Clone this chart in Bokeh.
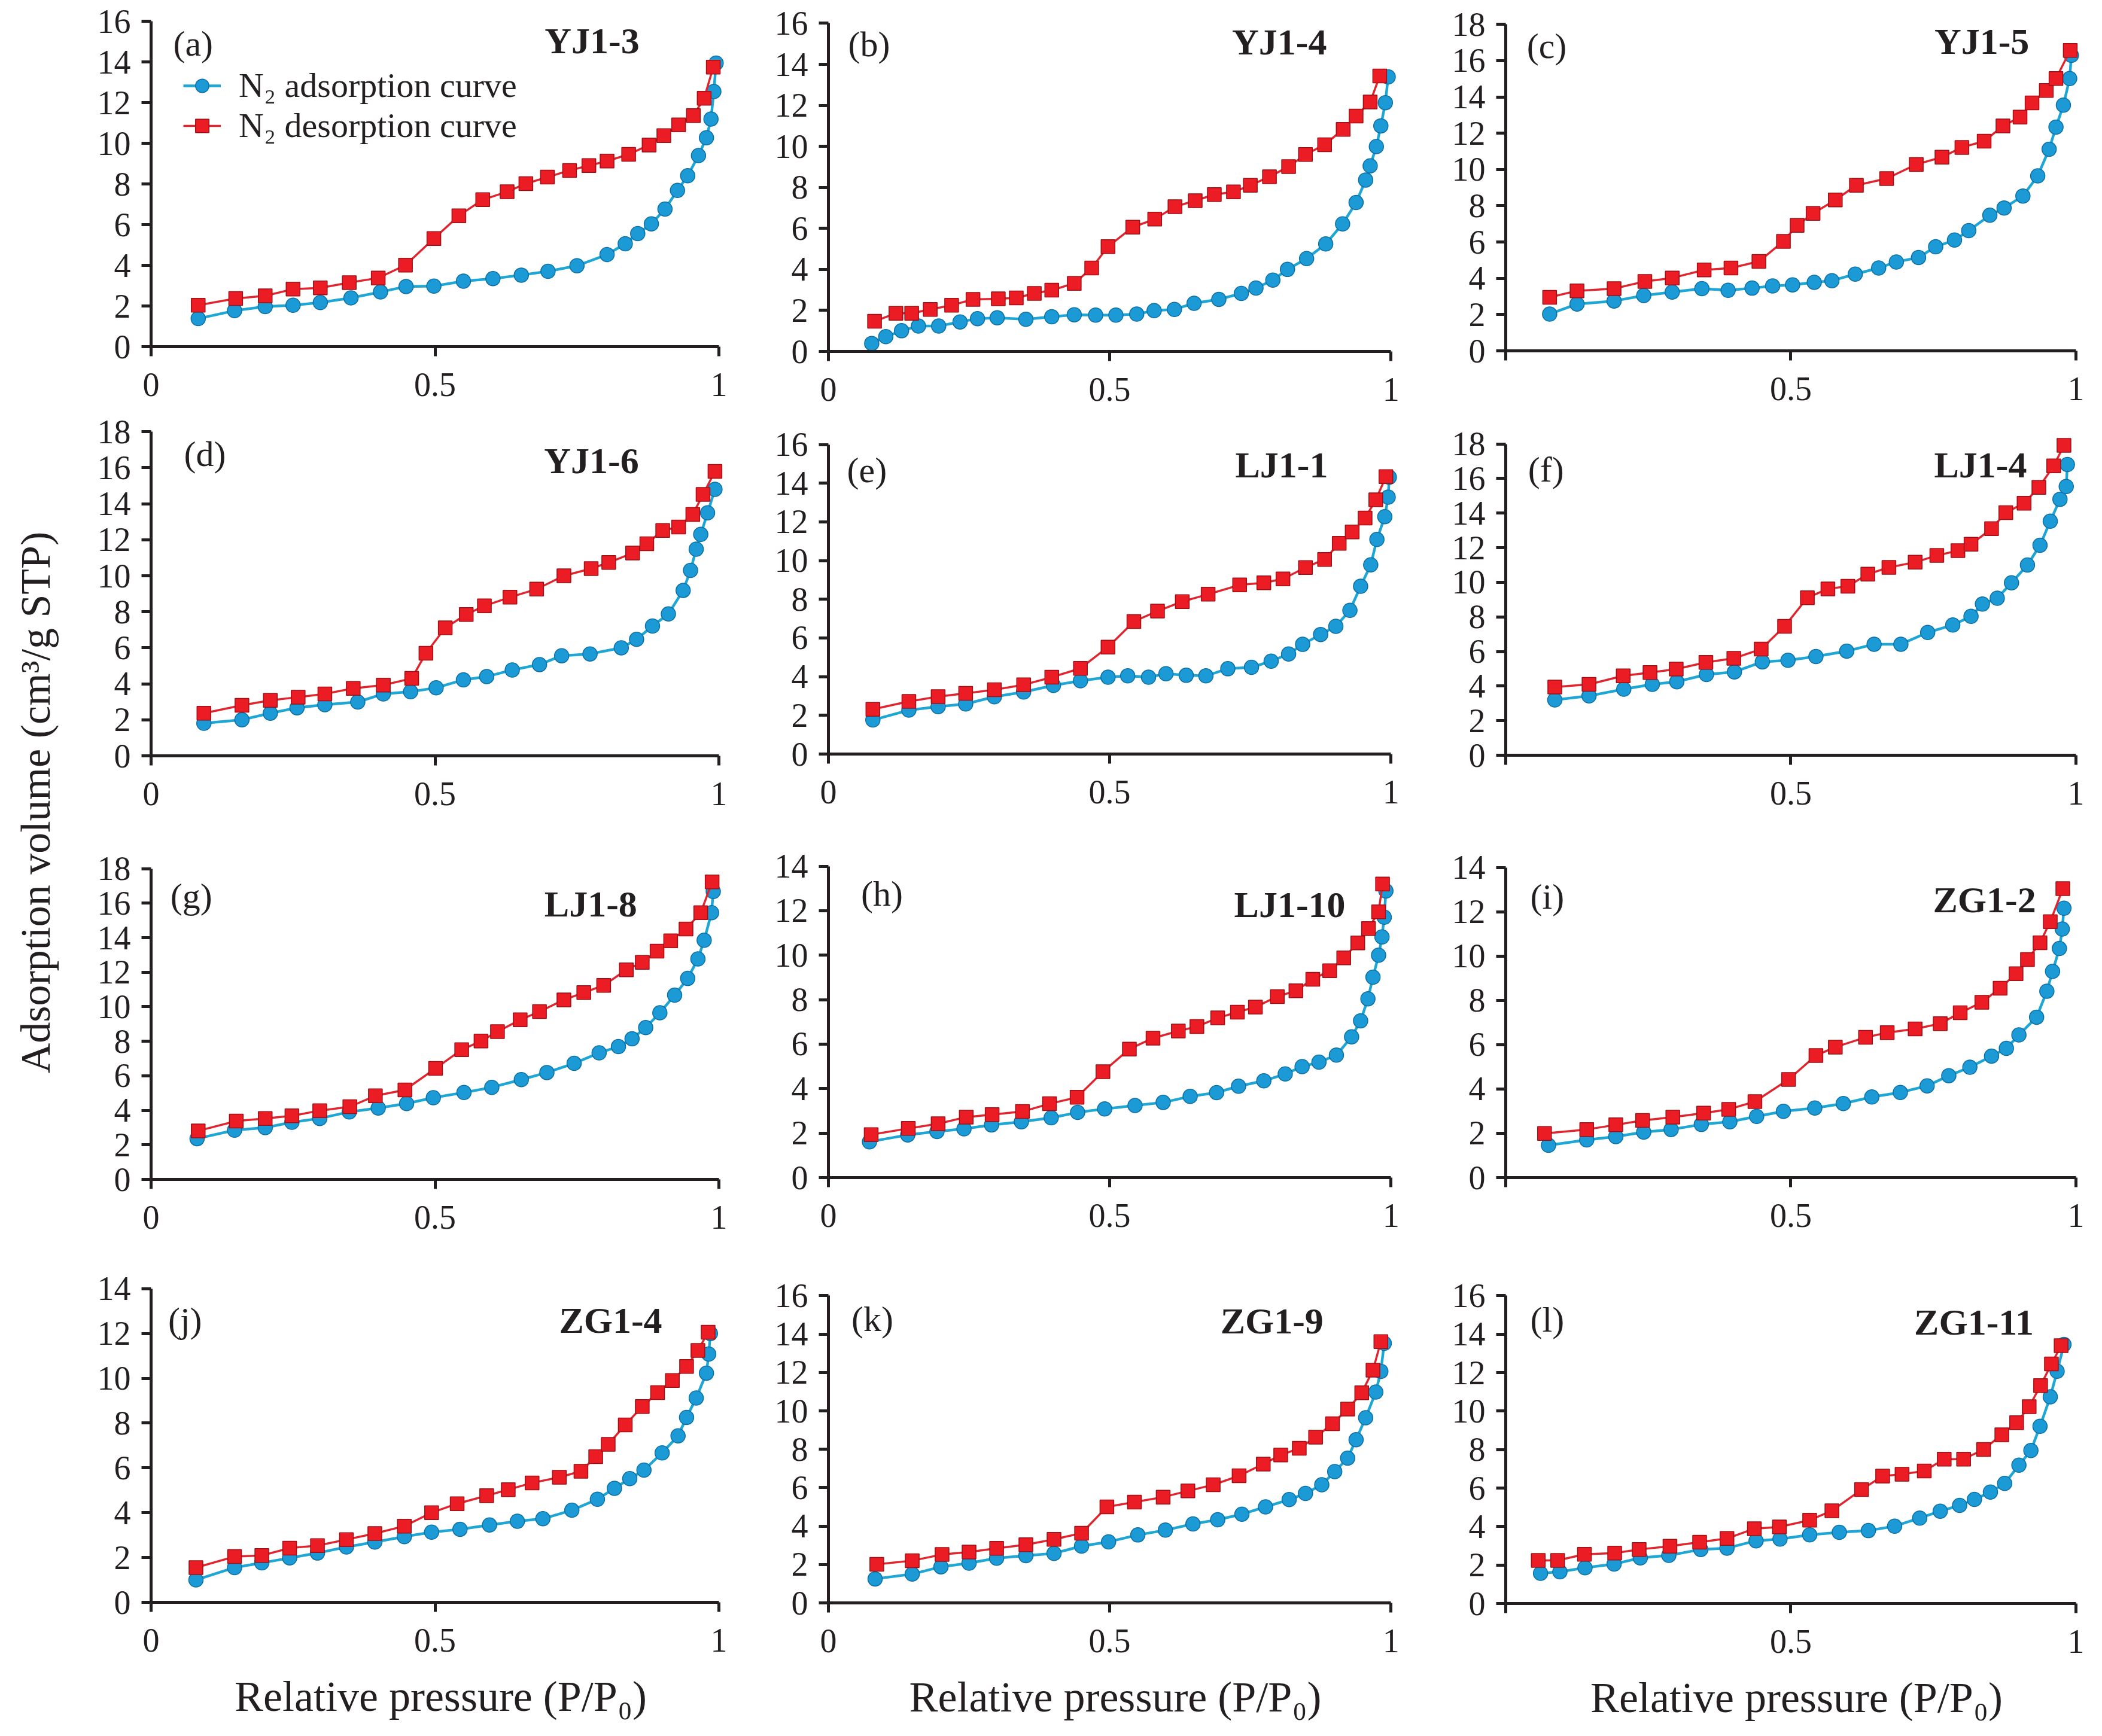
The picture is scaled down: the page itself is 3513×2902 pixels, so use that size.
import math
from bokeh.plotting import figure
from bokeh.layouts import row, column
from bokeh.models import Range1d, FixedTicker, Label, Legend, LegendItem
from bokeh.embed import file_html
from bokeh.resources import INLINE

# ---------------- data (relative pressure P/P0, adsorbed volume cm3/g STP) ----------------
YJ1_3_ads_p = [0.083,0.147,0.201,0.250,0.298,0.352,0.404,0.449,0.498,0.550,0.602,0.652,0.699,0.750,0.803,0.835,0.857,0.881,0.905,0.927,0.945,0.964,0.978,0.986,0.991,0.995]
YJ1_3_ads_v = [1.38,1.77,1.97,2.04,2.17,2.40,2.69,2.96,2.98,3.22,3.35,3.52,3.71,3.98,4.53,5.06,5.56,6.04,6.77,7.69,8.41,9.40,10.28,11.20,12.55,13.95]
YJ1_3_des_p = [0.083,0.149,0.201,0.250,0.298,0.349,0.400,0.448,0.498,0.542,0.584,0.627,0.660,0.698,0.737,0.771,0.803,0.841,0.877,0.903,0.929,0.955,0.974,0.990]
YJ1_3_des_v = [2.04,2.37,2.50,2.83,2.89,3.15,3.38,4.01,5.32,6.44,7.23,7.62,8.02,8.34,8.67,8.91,9.13,9.46,9.92,10.38,10.91,11.37,12.22,13.75]

YJ1_4_ads_p = [0.077,0.102,0.130,0.160,0.196,0.234,0.265,0.300,0.351,0.397,0.437,0.475,0.511,0.548,0.579,0.615,0.650,0.694,0.734,0.760,0.790,0.816,0.850,0.884,0.914,0.938,0.955,0.963,0.974,0.982,0.990,0.995]
YJ1_4_ads_v = [0.39,0.72,1.01,1.24,1.24,1.44,1.60,1.64,1.57,1.69,1.79,1.77,1.77,1.82,1.99,2.05,2.35,2.54,2.83,3.09,3.48,4.00,4.53,5.24,6.22,7.26,8.36,9.05,9.99,11.00,12.13,13.39]
YJ1_4_des_p = [0.082,0.120,0.148,0.181,0.219,0.257,0.302,0.334,0.366,0.397,0.437,0.468,0.497,0.541,0.580,0.616,0.652,0.686,0.720,0.750,0.784,0.818,0.848,0.882,0.915,0.938,0.963,0.980]
YJ1_4_des_v = [1.47,1.86,1.86,2.05,2.25,2.54,2.57,2.61,2.83,2.99,3.32,4.07,5.11,6.06,6.45,7.06,7.35,7.65,7.78,8.10,8.52,9.01,9.60,10.08,10.83,11.48,12.16,13.43]

YJ1_5_ads_p = [0.077,0.125,0.190,0.242,0.292,0.344,0.390,0.432,0.468,0.503,0.541,0.572,0.613,0.654,0.685,0.724,0.754,0.787,0.812,0.849,0.874,0.907,0.933,0.953,0.965,0.978,0.989,0.992]
YJ1_5_ads_v = [2.03,2.58,2.75,3.05,3.24,3.43,3.34,3.46,3.58,3.64,3.78,3.87,4.23,4.57,4.90,5.15,5.74,6.11,6.63,7.48,7.88,8.54,9.65,11.12,12.34,13.55,15.02,16.30]
YJ1_5_des_p = [0.077,0.125,0.190,0.244,0.292,0.348,0.395,0.444,0.487,0.511,0.539,0.578,0.615,0.668,0.720,0.765,0.800,0.839,0.872,0.902,0.923,0.948,0.965,0.990]
YJ1_5_des_v = [2.95,3.31,3.43,3.83,4.02,4.46,4.57,4.93,6.04,6.92,7.58,8.32,9.13,9.50,10.28,10.68,11.22,11.56,12.40,12.89,13.67,14.36,15.02,16.57]

YJ1_6_ads_p = [0.093,0.160,0.210,0.257,0.306,0.364,0.409,0.457,0.502,0.550,0.591,0.636,0.684,0.723,0.773,0.828,0.855,0.883,0.911,0.937,0.950,0.960,0.968,0.980,0.993]
YJ1_6_ads_v = [1.81,2.00,2.37,2.67,2.84,2.99,3.44,3.56,3.78,4.22,4.40,4.77,5.07,5.56,5.66,6.00,6.47,7.21,7.88,9.19,10.30,11.48,12.30,13.50,14.80]
YJ1_6_des_p = [0.093,0.160,0.210,0.259,0.306,0.356,0.409,0.459,0.484,0.518,0.555,0.587,0.632,0.679,0.727,0.775,0.806,0.848,0.873,0.901,0.929,0.954,0.972,0.993]
YJ1_6_des_v = [2.37,2.81,3.08,3.26,3.44,3.75,3.93,4.30,5.70,7.11,7.85,8.33,8.81,9.26,10.00,10.40,10.74,11.26,11.78,12.52,12.71,13.41,14.52,15.80]

LJ1_1_ads_p = [0.079,0.143,0.195,0.244,0.295,0.347,0.400,0.448,0.497,0.532,0.569,0.600,0.636,0.671,0.710,0.752,0.787,0.818,0.843,0.875,0.902,0.927,0.946,0.964,0.975,0.989,0.995,0.997]
LJ1_1_ads_v = [1.76,2.27,2.45,2.59,2.96,3.21,3.55,3.79,3.97,4.04,3.97,4.15,4.07,4.04,4.41,4.48,4.80,5.17,5.67,6.18,6.60,7.43,8.67,9.78,11.09,12.27,13.28,14.31]
LJ1_1_des_p = [0.079,0.143,0.195,0.244,0.295,0.347,0.397,0.448,0.497,0.543,0.585,0.629,0.675,0.731,0.774,0.808,0.848,0.882,0.908,0.931,0.954,0.973,0.991]
LJ1_1_des_v = [2.31,2.72,2.97,3.14,3.32,3.58,3.97,4.43,5.53,6.85,7.39,7.88,8.26,8.74,8.85,9.05,9.64,10.06,10.89,11.48,12.20,13.14,14.34]

LJ1_4_ads_p = [0.086,0.146,0.207,0.257,0.300,0.352,0.401,0.450,0.495,0.544,0.598,0.646,0.693,0.740,0.784,0.816,0.836,0.862,0.887,0.915,0.937,0.955,0.972,0.983,0.985]
LJ1_4_ads_v = [3.20,3.43,3.82,4.10,4.25,4.67,4.82,5.40,5.49,5.71,6.02,6.42,6.42,7.10,7.53,8.03,8.74,9.08,9.97,11.00,12.14,13.53,14.80,15.54,16.81]
LJ1_4_des_p = [0.086,0.146,0.206,0.253,0.299,0.351,0.400,0.448,0.489,0.529,0.565,0.600,0.635,0.672,0.718,0.756,0.793,0.816,0.852,0.877,0.909,0.935,0.961,0.979]
LJ1_4_des_v = [3.94,4.10,4.59,4.78,4.98,5.37,5.60,6.14,7.45,9.11,9.62,9.77,10.47,10.86,11.16,11.55,11.83,12.20,13.10,14.03,14.57,15.49,16.73,17.92]

LJ1_8_ads_p = [0.081,0.147,0.201,0.248,0.297,0.349,0.400,0.450,0.497,0.551,0.600,0.652,0.697,0.745,0.789,0.823,0.847,0.871,0.896,0.922,0.945,0.963,0.974,0.987,0.990]
LJ1_8_ads_v = [2.36,2.85,3.00,3.31,3.53,3.91,4.13,4.39,4.73,5.03,5.33,5.78,6.19,6.72,7.33,7.69,8.14,8.79,9.65,10.67,11.64,12.77,13.85,15.45,16.68]
LJ1_8_des_p = [0.083,0.150,0.201,0.248,0.297,0.350,0.395,0.447,0.501,0.547,0.581,0.610,0.650,0.684,0.727,0.762,0.797,0.837,0.865,0.891,0.915,0.942,0.968,0.988]
LJ1_8_des_v = [2.81,3.38,3.53,3.68,3.98,4.21,4.84,5.18,6.43,7.51,8.01,8.56,9.24,9.72,10.40,10.82,11.24,12.14,12.57,13.22,13.82,14.50,15.45,17.23]

LJ1_10_ads_p = [0.073,0.141,0.193,0.241,0.290,0.343,0.396,0.443,0.491,0.545,0.595,0.643,0.690,0.729,0.774,0.812,0.842,0.872,0.903,0.930,0.946,0.959,0.968,0.978,0.984,0.988,0.991]
LJ1_10_ads_v = [1.61,1.92,2.07,2.19,2.37,2.51,2.69,2.93,3.09,3.24,3.38,3.65,3.82,4.11,4.35,4.66,4.99,5.19,5.51,6.33,7.05,8.04,9.01,10.00,10.82,11.71,12.89]
LJ1_10_des_p = [0.076,0.142,0.195,0.245,0.291,0.345,0.393,0.442,0.488,0.535,0.577,0.622,0.655,0.692,0.727,0.759,0.798,0.831,0.861,0.891,0.916,0.941,0.960,0.978,0.985]
LJ1_10_des_v = [1.93,2.21,2.42,2.72,2.83,2.97,3.32,3.61,4.76,5.78,6.27,6.59,6.79,7.18,7.44,7.67,8.14,8.40,8.92,9.30,9.88,10.55,11.20,11.95,13.20]

ZG1_2_ads_p = [0.075,0.142,0.193,0.242,0.290,0.343,0.393,0.440,0.487,0.542,0.592,0.642,0.692,0.739,0.777,0.814,0.852,0.878,0.900,0.931,0.949,0.959,0.971,0.976,0.979]
ZG1_2_ads_v = [1.46,1.70,1.85,2.05,2.17,2.40,2.52,2.76,2.99,3.14,3.34,3.64,3.84,4.14,4.60,4.98,5.48,5.83,6.44,7.24,8.41,9.31,10.34,11.22,12.16]
ZG1_2_des_p = [0.068,0.142,0.193,0.240,0.293,0.347,0.391,0.437,0.496,0.544,0.578,0.631,0.669,0.718,0.762,0.797,0.835,0.867,0.895,0.915,0.937,0.955,0.977]
ZG1_2_des_v = [1.99,2.17,2.38,2.58,2.73,2.91,3.08,3.43,4.43,5.51,5.89,6.33,6.54,6.71,6.95,7.44,7.91,8.55,9.20,9.84,10.60,11.55,13.04]

ZG1_4_ads_p = [0.079,0.147,0.195,0.244,0.293,0.344,0.394,0.446,0.494,0.544,0.596,0.645,0.690,0.741,0.786,0.816,0.843,0.868,0.900,0.928,0.943,0.960,0.978,0.982,0.985]
ZG1_4_ads_v = [1.00,1.55,1.76,1.98,2.20,2.47,2.69,2.93,3.13,3.26,3.45,3.62,3.73,4.11,4.60,5.09,5.52,5.90,6.67,7.43,8.25,9.12,10.23,11.08,12.00]
ZG1_4_des_p = [0.079,0.147,0.195,0.244,0.293,0.344,0.394,0.446,0.494,0.539,0.591,0.629,0.671,0.719,0.757,0.783,0.805,0.835,0.865,0.892,0.918,0.943,0.963,0.981]
ZG1_4_des_v = [1.55,2.04,2.09,2.42,2.53,2.80,3.07,3.40,4.00,4.40,4.76,5.03,5.33,5.58,5.85,6.50,7.05,7.92,8.74,9.36,9.90,10.53,11.24,12.06]

ZG1_9_ads_p = [0.083,0.149,0.200,0.250,0.299,0.351,0.401,0.450,0.498,0.550,0.599,0.648,0.692,0.735,0.777,0.819,0.848,0.877,0.900,0.923,0.938,0.955,0.973,0.982,0.988]
ZG1_9_ads_v = [1.25,1.50,1.88,2.07,2.33,2.46,2.58,2.96,3.18,3.54,3.79,4.11,4.33,4.62,5.00,5.38,5.70,6.15,6.84,7.54,8.50,9.64,10.98,12.06,13.52]
ZG1_9_des_p = [0.086,0.149,0.202,0.250,0.299,0.351,0.401,0.450,0.495,0.544,0.595,0.639,0.684,0.730,0.773,0.804,0.837,0.866,0.896,0.923,0.948,0.968,0.982]
ZG1_9_des_v = [2.01,2.20,2.52,2.65,2.84,3.03,3.31,3.63,5.00,5.25,5.51,5.83,6.15,6.62,7.23,7.70,8.05,8.63,9.33,10.09,10.94,12.12,13.61]

ZG1_11_ads_p = [0.061,0.095,0.139,0.190,0.236,0.286,0.342,0.388,0.439,0.481,0.533,0.585,0.636,0.682,0.726,0.762,0.796,0.822,0.850,0.875,0.900,0.921,0.937,0.955,0.967,0.979]
ZG1_11_ads_v = [1.57,1.65,1.86,2.05,2.37,2.50,2.81,2.88,3.26,3.35,3.57,3.70,3.79,4.02,4.44,4.80,5.10,5.41,5.79,6.24,7.19,7.95,9.21,10.74,12.07,13.46]
ZG1_11_des_p = [0.057,0.091,0.138,0.191,0.234,0.288,0.340,0.388,0.436,0.480,0.533,0.572,0.624,0.661,0.695,0.734,0.769,0.803,0.838,0.870,0.896,0.918,0.938,0.957,0.974]
ZG1_11_des_v = [2.24,2.24,2.56,2.62,2.81,2.98,3.19,3.38,3.89,3.98,4.33,4.82,5.92,6.62,6.72,6.89,7.50,7.50,8.01,8.77,9.40,10.23,11.33,12.45,13.40]

PANEL_LETTERS = ["(a)", "(b)", "(c)", "(d)", "(e)", "(f)", "(g)", "(h)", "(i)", "(j)", "(k)", "(l)"]
SAMPLE_NAMES = ["YJ1-3", "YJ1-4", "YJ1-5", "YJ1-6", "LJ1-1", "LJ1-4", "LJ1-8", "LJ1-10", "ZG1-2", "ZG1-4", "ZG1-9", "ZG1-11"]
Y_MAX = [16, 16, 18, 18, 16, 18, 18, 14, 14, 14, 16, 16]
X_TICKS = [0, 0.5, 1]
LEGEND_LABELS = ["N\u2082 adsorption curve", "N\u2082 desorption curve"]
X_TITLE = "Relative pressure (P/P\u2080)"
Y_TITLE = "Adsorption volume (cm\u00b3/g STP)"

SERIES = [
    (YJ1_3_ads_p, YJ1_3_ads_v, YJ1_3_des_p, YJ1_3_des_v),
    (YJ1_4_ads_p, YJ1_4_ads_v, YJ1_4_des_p, YJ1_4_des_v),
    (YJ1_5_ads_p, YJ1_5_ads_v, YJ1_5_des_p, YJ1_5_des_v),
    (YJ1_6_ads_p, YJ1_6_ads_v, YJ1_6_des_p, YJ1_6_des_v),
    (LJ1_1_ads_p, LJ1_1_ads_v, LJ1_1_des_p, LJ1_1_des_v),
    (LJ1_4_ads_p, LJ1_4_ads_v, LJ1_4_des_p, LJ1_4_des_v),
    (LJ1_8_ads_p, LJ1_8_ads_v, LJ1_8_des_p, LJ1_8_des_v),
    (LJ1_10_ads_p, LJ1_10_ads_v, LJ1_10_des_p, LJ1_10_des_v),
    (ZG1_2_ads_p, ZG1_2_ads_v, ZG1_2_des_p, ZG1_2_des_v),
    (ZG1_4_ads_p, ZG1_4_ads_v, ZG1_4_des_p, ZG1_4_des_v),
    (ZG1_9_ads_p, ZG1_9_ads_v, ZG1_9_des_p, ZG1_9_des_v),
    (ZG1_11_ads_p, ZG1_11_ads_v, ZG1_11_des_p, ZG1_11_des_v),
]

# ---------------- layout / style (page pixel geometry) ----------------
# plot frame per panel: x of P/P0=0, x of P/P0=1, y of V=0, y of V=ymax
FRAMES = [
    (258, 1212, 587, 43), (1384, 2342, 595, 46), (2517, 3480, 594, 48),
    (250, 1220, 1271, 729), (1386, 2332, 1268, 751), (2512, 3477, 1270, 750),
    (257, 1209, 1979, 1460), (1392, 2342, 1976, 1456), (2521, 3482, 1976, 1458),
    (260, 1219, 2686, 2162), (1387, 2352, 2687, 2173), (2524, 3479, 2688, 2173),
]
LETTER_POS = [(0.039, 14.9), (0.035, 14.98), (0.037, 16.8), (0.058, 16.77), (0.033, 14.67), (0.039, 16.5),
              (0.034, 16.4), (0.058, 12.76), (0.043, 12.68), (0.030, 12.58), (0.041, 14.79), (0.043, 14.76)]
NAME_POS = [(0.86, 15.06), (0.886, 15.1), (0.918, 17.08), (0.859, 16.4), (0.888, 14.95), (0.914, 16.8),
            (0.856, 15.95), (0.919, 12.28), (0.93, 12.54), (0.90, 12.58), (0.88, 14.7), (0.926, 14.63)]
COL_CELLS = [(140, 1262), (1262, 2400), (2400, 3505)]
ROW_CELLS = [(8, 692), (692, 1400), (1400, 2100), (2100, 2894)]
X_END = 1.02
Y_PAD = 1.03

FONT = "Liberation Serif"
AX = "#231f20"
BLUE_FILL, BLUE_EDGE, BLUE_LINE = "#1b9ad6", "#0c6fa6", "#1ea7d4"
RED_FILL, RED_EDGE, RED_LINE = "#ec1c24", "#9e1016", "#e1252f"


def style_axis(ax, standoff):
    ax.axis_line_width = 5
    ax.axis_line_color = AX
    ax.major_tick_line_width = 5
    ax.major_tick_line_color = AX
    ax.major_tick_out = 16
    ax.major_tick_in = 0
    ax.minor_tick_line_color = None
    ax.major_label_text_font = FONT
    ax.major_label_text_font_size = "56px"
    ax.major_label_text_color = AX
    ax.major_label_standoff = standoff


panels = []
for i in range(12):
    r, c = divmod(i, 3)
    cl, cr = COL_CELLS[c]
    ct, cb = ROW_CELLS[r]
    x0, x1, y0, yt = FRAMES[i]
    ymax = Y_MAX[i]
    fw = (x1 - x0) * X_END
    fh = (y0 - yt) * Y_PAD
    ftop = y0 - fh
    p = figure(width=cr - cl, height=cb - ct,
               x_range=Range1d(0, X_END), y_range=Range1d(0, ymax * Y_PAD),
               min_border_left=int(round(x0 - cl)), min_border_right=int(round(cr - (x0 + fw))),
               min_border_top=int(round(ftop - ct)), min_border_bottom=int(round(cb - y0)),
               output_backend="svg", toolbar_location=None, tools="")
    p.outline_line_color = None
    p.grid.visible = False
    p.background_fill_color = "white"
    p.border_fill_color = "white"

    style_axis(p.xaxis[0], 28)
    style_axis(p.yaxis[0], 18)
    p.xaxis[0].ticker = FixedTicker(ticks=X_TICKS)
    p.xaxis[0].bounds = (0, 1)
    if c == 2:
        p.xaxis[0].major_label_overrides = {0: "", 0.5: "0.5", 1: "1"}
    else:
        p.xaxis[0].major_label_overrides = {0: "0", 0.5: "0.5", 1: "1"}
    p.yaxis[0].ticker = FixedTicker(ticks=list(range(0, ymax + 1, 2)))
    p.yaxis[0].bounds = (0, ymax)

    if r == 3:
        p.xaxis[0].axis_label = X_TITLE
        p.xaxis[0].axis_label_text_font = FONT
        p.xaxis[0].axis_label_text_font_style = "normal"
        p.xaxis[0].axis_label_text_font_size = "72px"
        p.xaxis[0].axis_label_text_color = AX
        p.xaxis[0].axis_label_standoff = 32

    ap, av, dp, dv = SERIES[i]
    la = p.line(ap, av, line_color=BLUE_LINE, line_width=4.5)
    sa = p.scatter(ap, av, marker="circle", size=24, fill_color=BLUE_FILL, line_color=BLUE_EDGE, line_width=1.5)
    ld = p.line(dp, dv, line_color=RED_LINE, line_width=3.5)
    sd = p.scatter(dp, dv, marker="square", size=23, fill_color=RED_FILL, line_color=RED_EDGE, line_width=1.5)

    lx, ly = LETTER_POS[i]
    p.add_layout(Label(x=lx, y=ly, text=PANEL_LETTERS[i], text_font=FONT, text_font_size="60px",
                       text_color=AX, text_align="left", text_baseline="middle"))
    nx, ny = NAME_POS[i]
    p.add_layout(Label(x=nx, y=ny, text=SAMPLE_NAMES[i], text_font=FONT, text_font_size="62px",
                       text_font_style="bold", text_color=AX, text_align="right", text_baseline="middle"))

    if i == 0:
        leg = Legend(items=[LegendItem(label=LEGEND_LABELS[0], renderers=[la, sa]),
                            LegendItem(label=LEGEND_LABELS[1], renderers=[ld, sd])],
                     location=(54, 336), orientation="vertical", padding=0, margin=0, spacing=0,
                     glyph_width=63, glyph_height=56, label_height=56, label_standoff=30,
                     label_text_font=FONT, label_text_font_size="58px", label_text_color=AX,
                     border_line_color=None, background_fill_alpha=0)
        p.add_layout(leg)
    panels.append(p)

# narrow figure holding the shared y-axis title
total_h = ROW_CELLS[-1][1] - ROW_CELLS[0][0]
lab_w = COL_CELLS[0][0] - 8
yl = figure(width=lab_w, height=total_h, x_range=Range1d(0, 1), y_range=Range1d(0, 1),
            x_axis_location=None, y_axis_location=None, min_border=0,
            output_backend="svg", toolbar_location=None, tools="")
yl.outline_line_color = None
yl.grid.visible = False
yl.add_layout(Label(x=(67 - 8) / lab_w, y=1 - (1349 - 8) / total_h, text=Y_TITLE, angle=math.pi / 2,
                    text_font=FONT, text_font_size="70px", text_color=AX,
                    text_align="center", text_baseline="middle"))

cols = [column(*[panels[r * 3 + c] for r in range(4)], spacing=0) for c in range(3)]
layout = row(yl, *cols, spacing=0)

open("out.html", "w").write(file_html(layout, INLINE, title="N2 adsorption-desorption isotherms"))
